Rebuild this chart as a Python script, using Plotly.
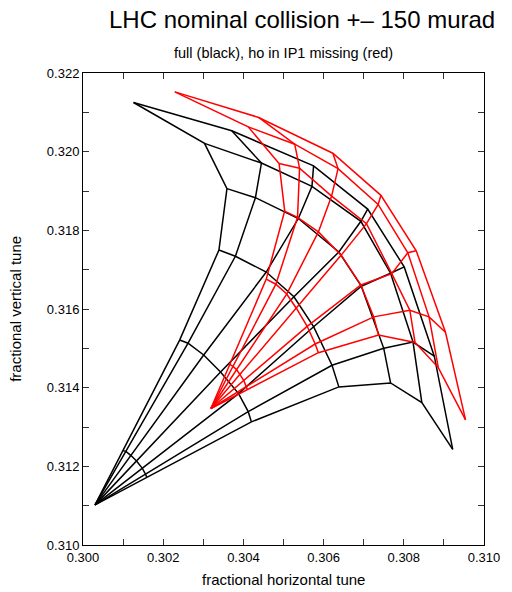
import plotly.graph_objects as go

# Tune footprints: zero-amplitude tune plus rings of constant amplitude
# (ring 1 .. ring 6), each ring listed from the horizontal plane (angle 0)
# to the vertical plane (angle 90 deg) in 7 angular steps.

# full beam-beam (black)
black_q0 = (0.30030, 0.31102)
black_qx = [
    [0.30159, 0.30156, 0.30148, 0.30133, 0.30119, 0.30107, 0.30100],
    [0.30420, 0.30412, 0.30388, 0.30343, 0.30301, 0.30262, 0.30241],
    [0.30638, 0.30621, 0.30575, 0.30526, 0.30457, 0.30380, 0.30339],
    [0.30767, 0.30750, 0.30694, 0.30638, 0.30537, 0.30430, 0.30359],
    [0.30845, 0.30823, 0.30767, 0.30693, 0.30571, 0.30445, 0.30303],
    [0.30922, 0.30876, 0.30801, 0.30710, 0.30575, 0.30371, 0.30126],
]
black_qy = [
    [0.31172, 0.31180, 0.31195, 0.31214, 0.31228, 0.31238, 0.31240],
    [0.31313, 0.31339, 0.31385, 0.31440, 0.31483, 0.31513, 0.31521],
    [0.31402, 0.31457, 0.31555, 0.31631, 0.31694, 0.31734, 0.31750],
    [0.31412, 0.31500, 0.31658, 0.31745, 0.31830, 0.31883, 0.31906],
    [0.31362, 0.31516, 0.31691, 0.31823, 0.31912, 0.31971, 0.32021],
    [0.31243, 0.31480, 0.31707, 0.31854, 0.31964, 0.32053, 0.32125],
]

# head-on in IP1 missing (red)
red_q0 = (0.30319, 0.31347)
red_qx = [
    [0.30410, 0.30407, 0.30401, 0.30391, 0.30383, 0.30374, 0.30366],
    [0.30587, 0.30579, 0.30559, 0.30532, 0.30508, 0.30481, 0.30457],
    [0.30737, 0.30725, 0.30693, 0.30644, 0.30587, 0.30535, 0.30503],
    [0.30828, 0.30815, 0.30770, 0.30707, 0.30620, 0.30540, 0.30489],
    [0.30886, 0.30863, 0.30810, 0.30736, 0.30636, 0.30528, 0.30412],
    [0.30954, 0.30904, 0.30831, 0.30743, 0.30623, 0.30438, 0.30229],
]
red_qy = [
    [0.31395, 0.31403, 0.31418, 0.31434, 0.31446, 0.31454, 0.31459],
    [0.31489, 0.31511, 0.31556, 0.31602, 0.31638, 0.31663, 0.31676],
    [0.31534, 0.31580, 0.31661, 0.31737, 0.31796, 0.31833, 0.31849],
    [0.31515, 0.31597, 0.31690, 0.31817, 0.31887, 0.31958, 0.31970],
    [0.31451, 0.31580, 0.31743, 0.31866, 0.31957, 0.32019, 0.32063],
    [0.31318, 0.31541, 0.31748, 0.31889, 0.31996, 0.32087, 0.32152],
]

x_ticks = [0.300, 0.302, 0.304, 0.306, 0.308, 0.310]
y_ticks = [0.310, 0.312, 0.314, 0.316, 0.318, 0.320, 0.322]


def footprint_paths(q0, qx, qy):
    """Return x/y lists (None-separated) for amplitude rings and angle lines."""
    xs, ys = [], []
    for ring_x, ring_y in zip(qx, qy):
        xs += list(ring_x) + [None]
        ys += list(ring_y) + [None]
    for k in range(len(qx[0])):
        xs += [q0[0]] + [ring[k] for ring in qx] + [None]
        ys += [q0[1]] + [ring[k] for ring in qy] + [None]
    return xs, ys


fig = go.Figure()
for q0, qx, qy, color, name in [
    (black_q0, black_qx, black_qy, "black", "full"),
    (red_q0, red_qx, red_qy, "#ff0000", "ho in IP1 missing"),
]:
    xs, ys = footprint_paths(q0, qx, qy)
    fig.add_trace(go.Scatter(x=xs, y=ys, mode="lines", name=name,
                             line=dict(color=color, width=1.5),
                             hoverinfo="skip", showlegend=False))

font = "Liberation Sans, Arial, Helvetica, sans-serif"
axis_common = dict(
    showgrid=False, zeroline=False, showline=True, linecolor="black",
    linewidth=1, mirror="allticks", ticks="inside", ticklen=6,
    tickcolor="#333333", tickfont=dict(family=font, size=13, color="black"),
    minor=dict(ticks="inside", ticklen=6, tickcolor="#333333"),
)
fig.update_xaxes(range=[0.300, 0.310], tickvals=x_ticks,
                 ticktext=[f"{v:.3f}" for v in x_ticks],
                 minor_dtick=0.001, **axis_common)
fig.update_yaxes(range=[0.310, 0.322], tickvals=y_ticks,
                 ticktext=[f"{v:.3f}" for v in y_ticks],
                 minor_dtick=0.001, **axis_common)

fig.update_layout(
    width=512, height=592,
    margin=dict(l=83, r=19, t=73, b=47),
    paper_bgcolor="white", plot_bgcolor="white",
    font=dict(family=font, color="black"),
    annotations=[
        dict(text="LHC nominal collision +\u2013 150 murad", x=0.545, y=1.113,
             xref="paper", yref="paper", showarrow=False, yanchor="middle",
             font=dict(size=24)),
        dict(text="full (black), ho in IP1 missing (red)", x=0.5, y=1.0417,
             xref="paper", yref="paper", showarrow=False, yanchor="middle",
             font=dict(size=14.5)),
        dict(text="fractional horizontal tune", x=0.5, y=-0.074,
             xref="paper", yref="paper", showarrow=False, yanchor="middle",
             font=dict(size=15)),
        dict(text="fractional vertical tune", x=-0.17, y=0.5,
             xref="paper", yref="paper", showarrow=False, textangle=-90,
             xanchor="center", yanchor="middle", font=dict(size=15)),
    ],
)

fig.write_html("out.html")
